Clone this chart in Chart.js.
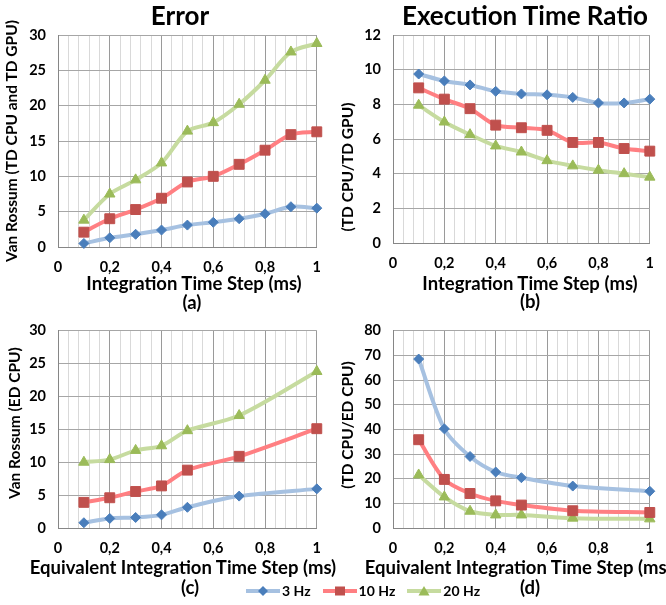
<!DOCTYPE html>
<html lang="en">
<head>
<meta charset="UTF-8">
<title>Error / Execution Time Ratio</title>
<script src="https://cdn.jsdelivr.net/npm/chart.js@4.4.1/dist/chart.umd.min.js"></script>
<style>
    body { margin: 0; background: #fff; width: 666px; height: 605px; position: relative; overflow: hidden; font-family: Lato, sans-serif; }
    canvas { position: absolute; }
    .txt { position: absolute; font-weight: bold; color: #000; white-space: nowrap; transform: translate(-50%, -50%); line-height: 1; }
    .rot { transform: translate(-50%, -50%) rotate(-90deg); }
    #legend { position: absolute; left: 246px; top: 582px; display: flex; align-items: center; font-weight: bold; font-size: 14px; }
    #legend span { margin: 0 12px 0 2px; }
</style>
</head>
<body>
<canvas id="chart-a" width="333" height="310" style="left:0;top:0"></canvas>
<canvas id="chart-b" width="333" height="310" style="left:333px;top:0"></canvas>
<canvas id="chart-c" width="333" height="295" style="left:0;top:310px"></canvas>
<canvas id="chart-d" width="333" height="295" style="left:333px;top:310px"></canvas>
<div id="legend"></div>

<script>
    // x positions (ms)
    const stepsTD = [0.1, 0.2, 0.3, 0.4, 0.5, 0.6, 0.7, 0.8, 0.9, 1.0];
    const stepsED = [0.1, 0.2, 0.3, 0.4, 0.5, 0.7, 1.0];

    const seriesNames = ["3 Hz", "10 Hz", "20 Hz"];

    // (a) Error, TD CPU vs TD GPU
    const errTD3  = [0.5, 1.3, 1.8, 2.4, 3.1, 3.5, 4.0, 4.7, 5.7, 5.5];
    const errTD10 = [2.1, 4.0, 5.3, 6.9, 9.2, 10.0, 11.7, 13.7, 15.9, 16.3];
    const errTD20 = [3.8, 7.5, 9.5, 11.9, 16.4, 17.6, 20.2, 23.6, 27.6, 28.8];

    // (b) Execution time ratio TD CPU / TD GPU
    const ratioTD3  = [9.75, 9.35, 9.12, 8.75, 8.6, 8.55, 8.4, 8.08, 8.08, 8.3];
    const ratioTD10 = [8.95, 8.3, 7.75, 6.8, 6.65, 6.5, 5.8, 5.8, 5.45, 5.3];
    const ratioTD20 = [7.95, 6.98, 6.25, 5.6, 5.25, 4.75, 4.45, 4.2, 4.0, 3.8];

    // (c) Error, ED CPU
    const errED3  = [0.8, 1.45, 1.6, 2.0, 3.15, 4.85, 5.95];
    const errED10 = [3.9, 4.6, 5.55, 6.4, 8.8, 10.9, 15.1];
    const errED20 = [10.0, 10.4, 11.8, 12.5, 14.8, 17.1, 23.8];

    // (d) Execution time ratio TD CPU / ED CPU
    const ratioED3  = [68.5, 40.2, 29.0, 22.7, 20.4, 17.0, 14.9];
    const ratioED10 = [35.8, 19.7, 14.0, 11.0, 9.3, 7.0, 6.3];
    const ratioED20 = [21.5, 12.6, 6.8, 5.3, 5.3, 4.0, 3.7];

    const lineColors = ['#a6c1e1', '#ff7f82', '#c6db9f'];
    const markerColors = ['#4a7ebb', '#c0504d', '#9bbb59'];
    const pointStyles = ['rectRot', 'rect', 'triangle'];
    const pointSizes = [5, 7, 6];

    const tickFont = { family: 'Lato', weight: 'bold', size: 14.5 };

    function isMajor(v) {
        return Math.abs(v * 5 - Math.round(v * 5)) < 1e-6;
    }

    function xLabel(v) {
        if (!isMajor(v)) return '';
        return String(Math.round(v * 10) / 10).replace('.', ',');
    }

    function makeChart(id, xs, series, yMax, yStep, box) {
        const datasets = series.map((vals, i) => ({
            label: seriesNames[i],
            data: xs.map((x, j) => ({ x: x, y: vals[j] })),
            borderColor: lineColors[i],
            backgroundColor: markerColors[i],
            pointBackgroundColor: markerColors[i],
            pointBorderColor: markerColors[i],
            pointStyle: pointStyles[i],
            pointRadius: pointSizes[i],
            pointBorderWidth: 1,
            borderWidth: 4,
            tension: 0.3,
            clip: false
        }));

        new Chart(id, {
            type: 'line',
            data: { datasets: datasets },
            options: {
                responsive: false,
                animation: false,
                layout: { padding: { top: box.top, right: box.right, left: 0, bottom: 0 } },
                plugins: { legend: { display: false }, tooltip: { enabled: false } },
                scales: {
                    x: {
                        type: 'linear', min: 0, max: 1,
                        afterFit: s => { s.height = box.xh; },
                        ticks: { stepSize: 0.04, autoSkip: false, maxRotation: 0, padding: 12,
                                 color: '#000', font: tickFont, callback: xLabel },
                        grid: { drawTicks: false, color: c => isMajor(c.tick.value) ? '#9a9a9a' : '#d9d9d9' },
                        border: { color: '#868686' }
                    },
                    y: {
                        min: 0, max: yMax,
                        afterFit: s => { s.width = box.yw; },
                        ticks: { stepSize: yStep, padding: 12, color: '#000', font: tickFont },
                        grid: { drawTicks: false, color: '#a6a6a6' },
                        border: { color: '#868686' }
                    }
                }
            }
        });
    }

    makeChart('chart-a', stepsTD, [errTD3, errTD10, errTD20], 30, 5, { top: 35, right: 10, yw: 58, xh: 63 });
    makeChart('chart-b', stepsTD, [ratioTD3, ratioTD10, ratioTD20], 12, 2, { top: 35, right: 6, yw: 60, xh: 67 });
    makeChart('chart-c', stepsED, [errED3, errED10, errED20], 30, 5, { top: 12, right: 10, yw: 58, xh: 77 });
    makeChart('chart-d', stepsED, [ratioED3, ratioED10, ratioED20], 80, 10, { top: 12, right: 6, yw: 60, xh: 77 });

    // titles and axis labels
    function addText(text, x, y, size, rotated) {
        const d = document.createElement('div');
        d.className = rotated ? 'txt rot' : 'txt';
        d.textContent = text;
        d.style.left = x + 'px';
        d.style.top = y + 'px';
        d.style.fontSize = size + 'px';
        document.body.appendChild(d);
    }

    addText('Error', 180, 15, 26);
    addText('Execution Time Ratio', 525, 15, 26);
    addText('Integration Time Step (ms)', 194, 283, 18.5);
    addText('(a)', 192, 302, 18.5);
    addText('Integration Time Step (ms)', 530, 283, 18.5);
    addText('(b)', 530, 301, 18.5);
    addText('Equivalent Integration Time Step (ms)', 183, 567, 18.5);
    addText('(c)', 190, 587, 18.5);
    addText('Equivalent Integration Time Step (ms)', 518, 567, 18.5);
    addText('(d)', 530, 587, 18.5);
    addText('Van Rossum (TD CPU and TD GPU)', 12, 141, 15.5, true);
    addText('(TD CPU/TD GPU)', 348, 167, 15.5, true);
    addText('Van Rossum (ED CPU)', 15, 423, 15.5, true);
    addText('(TD CPU/ED CPU)', 348, 425, 15.5, true);

    // legend with line + marker swatches
    const markerShapes = [
        '<polygon points="17,2 22,7 17,12 12,7"/>',
        '<rect x="12" y="2.5" width="10" height="9"/>',
        '<polygon points="17,2 22.5,11.5 11.5,11.5"/>'
    ];
    const legend = document.getElementById('legend');
    seriesNames.forEach((name, i) => {
        legend.insertAdjacentHTML('beforeend',
            '<svg width="34" height="14"><line x1="0" y1="7" x2="34" y2="7" stroke="' + lineColors[i] +
            '" stroke-width="4"/><g fill="' + markerColors[i] + '">' + markerShapes[i] + '</g></svg><span>' + name + '</span>');
    });
</script>
</body>
</html>
